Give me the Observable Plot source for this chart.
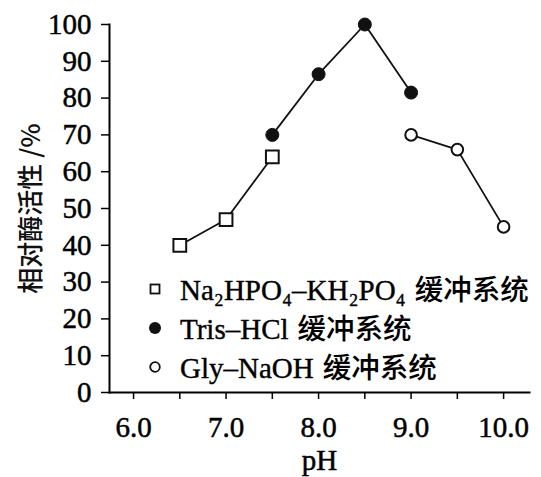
<!DOCTYPE html>
<html>
<head>
<meta charset="utf-8">
<script src="https://cdn.jsdelivr.net/npm/d3@7"></script>
<script src="https://cdn.jsdelivr.net/npm/@observablehq/plot@0.6"></script>
<style>
  html, body { margin: 0; padding: 0; background: #fff; }
  #wrap { position: relative; width: 541px; height: 477px; }
  #wrap svg [aria-label$="tick label"] text,
  #wrap svg [aria-label="x-axis label"] text {
    font-family: "Liberation Serif", "Times New Roman", serif !important;
    stroke: #000; stroke-width: 0.5px;
  }
  #legend { position: absolute; left: 146px; top: 269px; font-family: "Liberation Serif", "Times New Roman", serif; font-size: 29px; color: #000; -webkit-text-stroke: 0.4px #000; }
  #legend .row { height: 39px; line-height: 39px; display: flex; align-items: center; white-space: nowrap; }
  #legend .sw { width: 18px; margin-right: 16px; display: flex; justify-content: center; }
  #legend .cjk { font-family: "Noto Sans CJK SC", sans-serif; font-size: 28.5px; margin-left: 9px; font-weight: 500; -webkit-text-stroke: 0; }
</style>
</head>
<body>
<div id="wrap"></div>
<script>
// ---- data ----
const phPhosphate = [6.5, 7.0, 7.5];
const actPhosphate = [40, 47, 64];
const phTris = [7.5, 8.0, 8.5, 9.0];
const actTris = [70, 86.5, 100, 81.5];
const phGly = [9.0, 9.5, 10.0];
const actGly = [70, 66, 45];

const xTicks = [6.0, 6.5, 7.0, 7.5, 8.0, 8.5, 9.0, 9.5, 10.0];
const yTicks = [0, 10, 20, 30, 40, 50, 60, 70, 80, 90, 100];
const xLabel = "pH";
const yLabel = "相对酶活性 /%";
const seriesNames = ["Na₂HPO₄–KH₂PO₄ 缓冲系统", "Tris–HCl 缓冲系统", "Gly–NaOH 缓冲系统"];

const toRows = (xs, ys) => xs.map((x, i) => ({ x, y: ys[i] }));
const phosphate = toRows(phPhosphate, actPhosphate);
const tris = toRows(phTris, actTris);
const gly = toRows(phGly, actGly);

const serif = "Liberation Serif, Times New Roman, serif";
const sansCJK = "Noto Sans CJK SC, sans-serif";

const chart = Plot.plot({
  width: 541,
  height: 477,
  marginLeft: 109,
  marginRight: 12,
  marginTop: 24,
  marginBottom: 85,
  style: { fontFamily: serif, fontSize: "29px", color: "#000", background: "transparent" },
  x: { domain: [5.74, 10.28] },
  y: { domain: [0, 100] },
  marks: [
    Plot.axisY({
      ticks: yTicks, tickSize: 8, tickPadding: 10, strokeWidth: 1.5,
      label: null, fontSize: 29, fontFamily: serif, fill: "#000"
    }),
    Plot.axisX({
      ticks: xTicks, tickSize: 7, tickPadding: 17, strokeWidth: 1.5,
      tickFormat: d => Number.isInteger(d) ? d.toFixed(1) : "",
      label: null, fontSize: 29, fontFamily: serif, fill: "#000"
    }),
    Plot.axisX({
      ticks: [], label: xLabel, labelAnchor: "center", labelArrow: "none",
      labelOffset: 77, fontSize: 29, fontFamily: serif, tickSize: 0, fill: "#000"
    }),
    Plot.axisY({
      ticks: [], label: yLabel, labelAnchor: "center", labelArrow: "none",
      labelOffset: 88, tickSize: 0, fill: "#111",
      fontFamily: sansCJK, fontSize: 26, fontWeight: 500
    }),
    Plot.frame({ anchor: "left", strokeWidth: 2 }),
    Plot.frame({ anchor: "bottom", strokeWidth: 2 }),
    Plot.line(phosphate, { x: "x", y: "y", stroke: "#111", strokeWidth: 1.8 }),
    Plot.line(tris, { x: "x", y: "y", stroke: "#111", strokeWidth: 1.8 }),
    Plot.line(gly, { x: "x", y: "y", stroke: "#111", strokeWidth: 1.8 }),
    Plot.dot(phosphate, { x: "x", y: "y", symbol: "square", r: 7.2, fill: "white", stroke: "#111", strokeWidth: 2 }),
    Plot.dot(tris, { x: "x", y: "y", symbol: "circle", r: 6.5, fill: "#111", stroke: "#111", strokeWidth: 1 }),
    Plot.dot(gly, { x: "x", y: "y", symbol: "circle", r: 5.8, fill: "white", stroke: "#111", strokeWidth: 2 })
  ]
});

const wrap = document.getElementById("wrap");
wrap.appendChild(chart);

// ---- legend ----
const legend = document.createElement("div");
legend.id = "legend";
const swatches = [
  '<svg width="12" height="12"><rect x="1.5" y="1.5" width="9" height="9" fill="white" stroke="#111" stroke-width="1.8"/></svg>',
  '<svg width="14" height="14"><circle cx="7" cy="7" r="6" fill="#111"/></svg>',
  '<svg width="14" height="14"><circle cx="7" cy="7" r="4.8" fill="white" stroke="#111" stroke-width="1.8"/></svg>'
];
const fmt = s => {
  const cut = s.lastIndexOf(" ");
  const latin = s.slice(0, cut), cjk = s.slice(cut + 1);
  return latin + '<span class="cjk">' + cjk + '</span>';
};
seriesNames.forEach((name, i) => {
  const row = document.createElement("div");
  row.className = "row";
  row.innerHTML = '<span class="sw">' + swatches[i] + '</span><span>' + fmt(name) + '</span>';
  legend.appendChild(row);
});
wrap.appendChild(legend);
</script>
</body>
</html>
